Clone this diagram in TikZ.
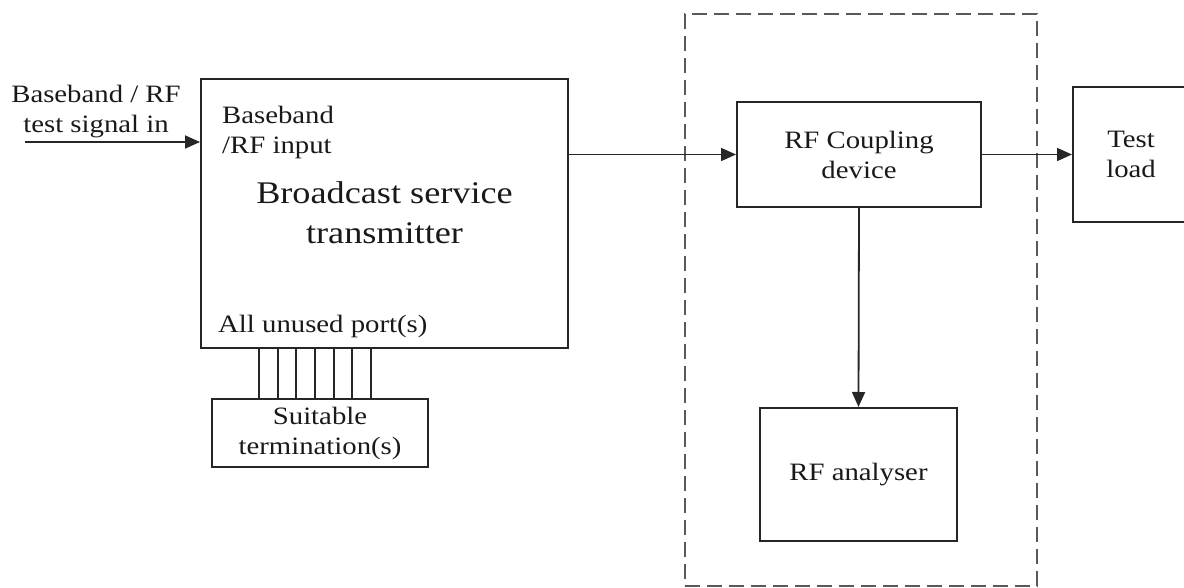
\documentclass[tikz,border=0pt]{standalone}
\usepackage{fontspec}
\setmainfont{Liberation Serif}[FakeStretch=1.15]
\usetikzlibrary{arrows.meta,calc}
\begin{document}
\begin{tikzpicture}[x=1pt,y=-1pt,
  box/.style={draw=black!85, line width=2pt, inner sep=0pt, align=center,
              font=\fontsize{25}{30}\selectfont, text=black!90},
  lbl/.style={inner sep=0pt, font=\fontsize{25}{30}\selectfont, text=black!90},
  big/.style={inner sep=0pt, align=center, font=\fontsize{31.5}{40}\selectfont, text=black!90},
  conn/.style={draw=black!85, line width=1.8pt, -{Triangle[length=15pt,width=13pt]}},
  wire/.style={draw=black!85, line width=1.8pt},
  grp/.style={draw=black!65, line width=2.3pt, dash pattern=on 15pt off 7pt}]
\useasboundingbox (0,0) rectangle (1184,588);
% dashed measurement group
\node[grp, minimum width=352, minimum height=572, inner sep=0pt] (grp) at (861,300) {};
% main transmitter
\node[box, minimum width=367, minimum height=269] (tx) at (384.5,213.5) {};
\node[big] (txlbl) at (384.5,212.5) {Broadcast service\\transmitter};
\node[lbl, align=left, anchor=west] (inlbl) at (222,132) {Baseband\\/RF input};
\node[lbl, anchor=base west] (portlbl) at (218,332) {All unused port(s)};
% termination
\node[box, minimum width=216, minimum height=68] (term) at (320,433) {Suitable\\termination(s)};
% coupling, load, analyser
\node[box, minimum width=244, minimum height=105] (cpl) at (859,154.5) {RF Coupling\\device};
\node[box, minimum width=116, minimum height=135] (load) at (1131,154.5) {Test\\load};
\node[box, minimum width=197, minimum height=133] (ana) at (858.5,474.5) {RF analyser};
% input signal
\node[lbl, align=center] (srclbl) at (96,112) {Baseband / RF\\test signal in};
\coordinate (src) at (25,142);
\draw[conn] (src) -- (src -| tx.west);
% connectors
\draw[conn] (tx.east |- cpl.west) -- (cpl.west);
\draw[conn] (cpl.east) -- (load.west);
\draw[conn] (cpl.south) -- (ana.north);
% port wires
\foreach \i in {0,...,6} {
  \path (tx.south west) ++({59+18.67*\i},0) coordinate (p\i);
  \draw[wire] (p\i) -- (p\i |- term.north);
}
\end{tikzpicture}
\end{document}
